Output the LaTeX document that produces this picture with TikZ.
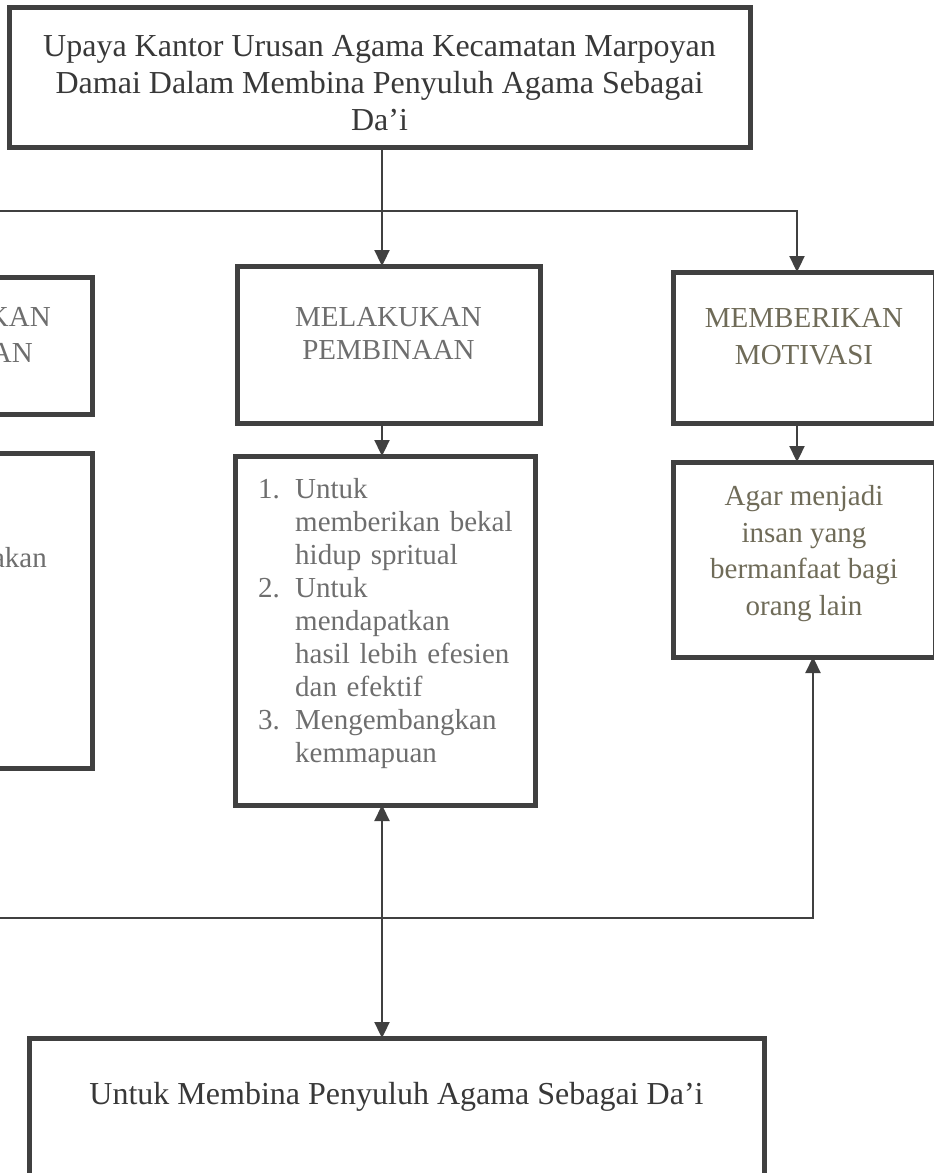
\documentclass[tikz,border=0pt]{standalone}
\usepackage{fontspec}
\setmainfont{Liberation Serif}
\usetikzlibrary{positioning,arrows.meta}
\definecolor{sline}{HTML}{404040}
\definecolor{sdark}{HTML}{383838}
\definecolor{sgrey}{HTML}{6E6E6E}
\definecolor{solive}{HTML}{6F6B58}

\begin{document}
\begin{tikzpicture}[x=1pt, y=-1pt,
    box/.style={draw=sline, line width=5pt, rectangle, inner sep=0pt, outer sep=0pt, anchor=north west},
    conn/.style={draw=sline, line width=2.3pt},
    arr/.style={conn, -{Triangle[length=16pt,width=15pt]}},
    darr/.style={conn, {Triangle[length=16pt,width=15pt]}-{Triangle[length=16pt,width=15pt]}},
    bigtxt/.style={text=sdark, font=\fontsize{32}{37}\selectfont, align=center, inner sep=0pt},
    midtxt/.style={text=sgrey, font=\fontsize{29}{33}\selectfont, align=center, inner sep=0pt},
    rgttxt/.style={midtxt, text=solive, font=\fontsize{29}{36.5}\selectfont}]
    \useasboundingbox (0,0) rectangle (934,1173);
    \clip (0,0) rectangle (934,1173);

    \node[box, minimum width=741pt, minimum height=140pt] (top) at (9,7) {};
    \node[box, minimum width=312pt, minimum height=137pt] (lft1) at (-220,277) {};
    \node[box, minimum width=303pt, minimum height=157pt] (mid1) at (237,266) {};
    \node[box, minimum width=262pt, minimum height=151pt] (rgt1) at (673,272) {};
    \node[box, minimum width=312pt, minimum height=315pt] (lft2) at (-220,453) {};
    \node[box, minimum width=300pt, minimum height=349pt] (mid2) at (235,456) {};
    \node[box, minimum width=262pt, minimum height=195pt] (rgt2) at (673,462) {};
    \node[box, minimum width=735pt, minimum height=200pt] (bot) at (29,1038) {};

    \node[bigtxt] (toptxt) at ([yshift=-6pt]top.center)
        {Upaya Kantor Urusan Agama Kecamatan Marpoyan\\Damai Dalam Membina Penyuluh Agama Sebagai\\Da’i};
    \node[midtxt, anchor=east] (lft1a) at (51,317) {KAN};
    \node[midtxt, anchor=east] (lft1b) at (33,353) {AN};
    \node[midtxt, anchor=east] (lft2a) at (47,558) {akan};
    \node[midtxt] (mid1txt) at ([yshift=11pt]mid1.center) {MELAKUKAN\\PEMBINAAN};
    \node[rgttxt] (rgt1txt) at ([yshift=11pt]rgt1.center) {MEMBERIKAN\\MOTIVASI};
    \node[rgttxt] (rgt2txt) at ([yshift=6pt]rgt2.center)
        {Agar menjadi\\insan yang\\bermanfaat bagi\\orang lain};
    \node[midtxt, align=left, text width=270pt, anchor=north west] (mid2txt)
        at ([xshift=23pt,yshift=-22pt]mid2.north west)
        {\makebox[37pt][l]{1.}Untuk\\
         \hspace*{37pt}memberikan bekal\\
         \hspace*{37pt}hidup spritual\\
         \makebox[37pt][l]{2.}Untuk\\
         \hspace*{37pt}mendapatkan\\
         \hspace*{37pt}hasil lebih efesien\\
         \hspace*{37pt}dan efektif\\
         \makebox[37pt][l]{3.}Mengembangkan\\
         \hspace*{37pt}kemmapuan};
    \node[bigtxt] (bottxt) at ([yshift=-59pt]bot.north) {Untuk Membina Penyuluh Agama Sebagai Da’i};

    \coordinate (jtop) at (382,211);
    \coordinate (jleft) at (-5,211);
    \coordinate (jright) at (797,211);
    \coordinate (jbot) at (813,918);
    \coordinate (jbotleft) at (-5,918);

    \draw[arr] (top.south -| jtop) -- (mid1.north -| jtop);
    \draw[arr] (jleft) -| (rgt1.north -| jright);
    \draw[arr] (mid1.south -| jtop) -- (mid2.north -| jtop);
    \draw[arr] (rgt1.south -| jright) -- (rgt2.north -| jright);
    \draw[darr] (mid2.south -| jtop) -- (bot.north -| jtop);
    \draw[arr] (jbotleft) -| (rgt2.south -| jbot);
\end{tikzpicture}
\end{document}
